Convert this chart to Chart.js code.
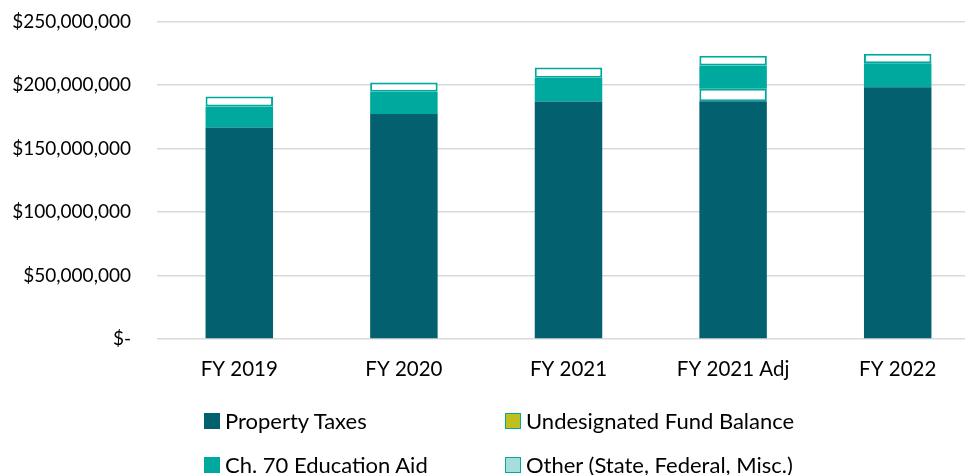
<!DOCTYPE html>
<html>
<head>
<meta charset="utf-8">
<script src="https://cdn.jsdelivr.net/npm/chart.js@4/dist/chart.umd.min.js"></script>
<style>
  html, body { margin: 0; padding: 0; background: #fff; overflow: hidden; }
  #wrap { position: relative; width: 980px; height: 475px; }
  #chartBox { position: absolute; left: 0; top: -16px; width: 980px; height: 411px; }
  #legend { position: absolute; left: 0; top: 0; width: 980px; height: 475px; pointer-events: none;
            font-family: Lato, sans-serif; font-size: 22px; line-height: 26px; color: #000; }
  .item { position: absolute; display: flex; align-items: center; white-space: nowrap; height: 26px; }
  .box { width: 14px; height: 14px; border: 1px solid #00a99d; margin-right: 5px; }
</style>
</head>
<body>
<div id="wrap">
  <div id="chartBox"><canvas id="budget"></canvas></div>
  <div id="legend"></div>
</div>
<script>
const categories = ['FY 2019', 'FY 2020', 'FY 2021', 'FY 2021 Adj', 'FY 2022'];
const propertyTaxes = [166400000, 177200000, 186900000, 187100000, 198200000];
const fundBalance = [null, null, null, 9800000, null];
const ch70Aid = [16600000, 17400000, 18700000, 18400000, 18900000];
const otherRevenue = [7900000, 7300000, 8100000, 7700000, 7400000];
const yTicks = [0, 50000000, 100000000, 150000000, 200000000, 250000000];

const TEAL_DARK = '#03616f';
const TEAL = '#00a99d';

const formatDollar = (v) => {
  if (v === 0) return '$-';
  return '$' + v.toLocaleString('en-US');
};

const yFont = { family: 'Lato', size: 19 };
const xFont = { family: 'Lato', size: 20.5 };

const datasets = [
  { label: 'Property Taxes', data: propertyTaxes, backgroundColor: TEAL_DARK,
    borderWidth: 0, legendColor: TEAL_DARK, legendBorder: TEAL_DARK },
  { label: 'Undesignated Fund Balance', data: fundBalance, backgroundColor: '#ffffff',
    borderColor: TEAL, borderWidth: 2, borderSkipped: false,
    legendColor: '#bfbf1f', legendBorder: TEAL },
  { label: 'Ch. 70 Education Aid', data: ch70Aid, backgroundColor: TEAL,
    borderWidth: 0, legendColor: TEAL, legendBorder: TEAL },
  { label: 'Other (State, Federal, Misc.)', data: otherRevenue, backgroundColor: '#ffffff',
    borderColor: TEAL, borderWidth: 2, borderSkipped: false,
    legendColor: '#a6dedc', legendBorder: TEAL }
];

// legend laid out in two columns, two rows
const legendSpots = [
  { left: 204, top: 408 }, { left: 505, top: 408 },
  { left: 204, top: 452 }, { left: 505, top: 452 }
];

const htmlLegend = {
  id: 'htmlLegend',
  afterUpdate(chart) {
    const el = document.getElementById('legend');
    el.innerHTML = '';
    chart.data.datasets.forEach((ds, i) => {
      const spot = legendSpots[i];
      const item = document.createElement('div');
      item.className = 'item';
      item.style.left = spot.left + 'px';
      item.style.top = spot.top + 'px';
      item.innerHTML = `<span class="box" style="background:${ds.legendColor};border-color:${ds.legendBorder}"></span>${ds.label}`;
      el.appendChild(item);
    });
  }
};

new Chart(document.getElementById('budget'), {
  type: 'bar',
  data: { labels: categories, datasets: datasets },
  options: {
    responsive: true,
    maintainAspectRatio: false,
    animation: false,
    layout: { padding: { top: 11, right: 0, bottom: 0, left: 0 } },
    datasets: { bar: { categoryPercentage: 1, barPercentage: 0.41 } },
    plugins: {
      legend: { display: false },
      tooltip: { enabled: false }
    },
    scales: {
      x: {
        stacked: true,
        grid: { display: false, drawTicks: false },
        border: { display: false },
        ticks: { color: '#000', font: xFont, padding: 18 },
        afterFit: (scale) => { scale.height = 56; }
      },
      y: {
        stacked: true,
        min: 0,
        max: 250000000,
        afterBuildTicks: (scale) => { scale.ticks = yTicks.map(v => ({ value: v })); },
        grid: { color: '#d9d9d9', lineWidth: 1.5, drawTicks: false },
        border: { display: false },
        ticks: { color: '#000', font: yFont, padding: 26, callback: (v) => formatDollar(v) },
        afterFit: (scale) => { scale.width = 157; }
      }
    }
  },
  plugins: [htmlLegend]
});
</script>
</body>
</html>
